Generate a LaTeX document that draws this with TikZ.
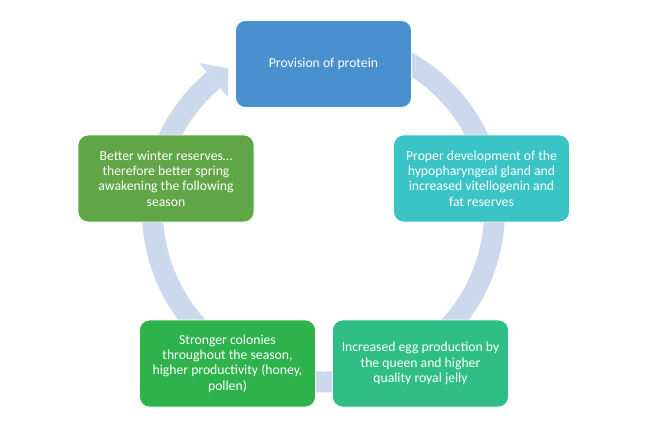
\documentclass[tikz,border=0pt]{standalone}
\usepackage{fontspec}
\setmainfont{Carlito}
\usetikzlibrary{calc}
\definecolor{ringblue}{RGB}{204,217,236}
\definecolor{protblue}{RGB}{74,144,206}
\definecolor{glandteal}{RGB}{58,196,197}
\definecolor{egggreen}{RGB}{47,190,131}
\definecolor{colonygreen}{RGB}{45,178,76}
\definecolor{wintergreen}{RGB}{96,166,70}
\tikzset{stage/.style={rectangle,rounded corners=10pt,draw=white,line width=0.8pt,
    minimum width=176pt,minimum height=87pt,text=white,align=center,
    font=\fontsize{13.7}{15.4}\selectfont}}

\begin{document}
\begin{tikzpicture}[x=1pt,y=1pt]
  \useasboundingbox (0,0) rectangle (646,424);
  % Ring
  \coordinate (ring) at (323.5,213);
  \fill[ringblue] ($(ring)+(112:160.5)$) arc[start angle=112,end angle=-230,radius=160.5pt]
    -- ($(ring)+(130:181.5)$) arc[start angle=-230,end angle=112,radius=181.5pt] -- cycle;
  \fill[ringblue] ($(ring)+(130:149)$) -- ($(ring)+(123.7:171.5)$) -- ($(ring)+(130:193)$) -- cycle;
  % Stages
  \node[stage,fill=protblue] (protein) at (323.5,360) {Provision of protein};
  \node[stage,fill=glandteal] (gland) at (481.5,245.5)
    {Proper development of the\\hypopharyngeal gland and\\increased vitellogenin and\\fat reserves};
  \node[stage,fill=egggreen] (eggs) at (420.5,60.5)
    {Increased egg production by\\the queen and higher\\quality royal jelly};
  \node[stage,fill=colonygreen] (colony) at (227.5,60.5)
    {Stronger colonies\\throughout the season,\\higher productivity (honey,\\pollen)};
  \node[stage,fill=wintergreen] (winter) at (166,245.5)
    {Better winter reserves…\\therefore better spring\\awakening the following\\season};
\end{tikzpicture}
\end{document}
